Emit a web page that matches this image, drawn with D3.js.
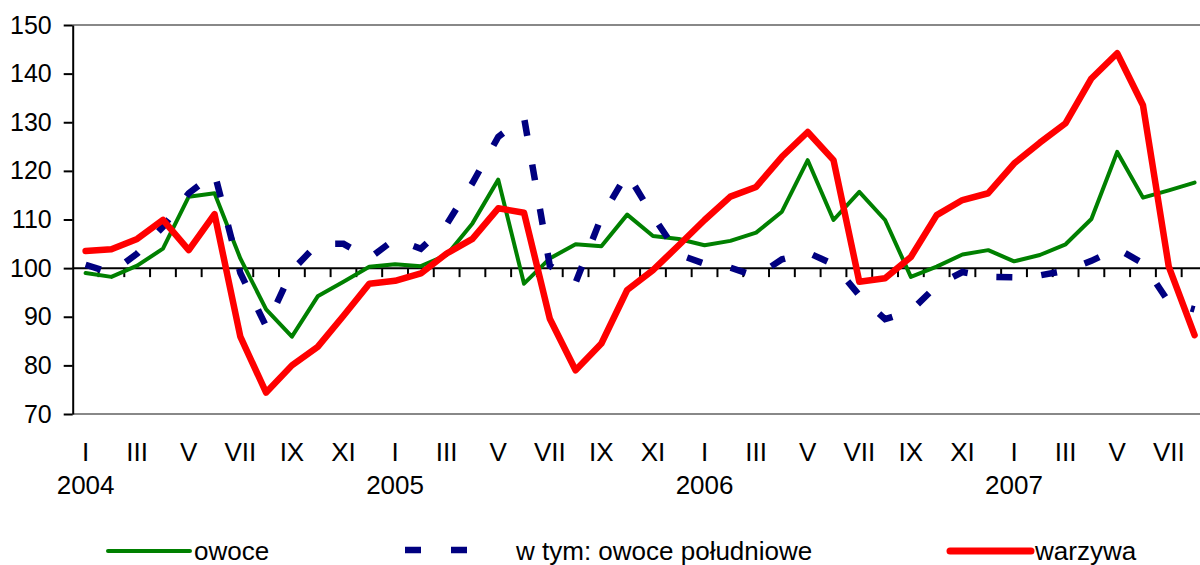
<!DOCTYPE html>
<html>
<head>
<meta charset="utf-8">
<script src="https://cdn.jsdelivr.net/npm/d3@7"></script>
<style>
  body { margin: 0; background: #fff; }
  svg { display: block; }
  text { font-family: Arial, "Liberation Sans", sans-serif; fill: #000; }
</style>
</head>
<body>
<div id="chart"></div>
<script>
// months I 2004 .. VIII 2007
var romans = ["I","II","III","IV","V","VI","VII","VIII","IX","X","XI","XII"];
var years = ["2004", "2005", "2006", "2007"];
var yTicks = [70, 80, 90, 100, 110, 120, 130, 140, 150];

var owoce = [99.0, 98.2, 100.5, 104.0, 114.7, 115.4, 102.0, 91.5, 85.9, 94.2,
             97.2, 100.3, 100.8, 100.4, 102.7, 109.2, 118.2, 96.8, 102.0, 104.9,
             104.5, 111.0, 106.6, 106.0, 104.7, 105.6, 107.3, 111.6, 122.2, 109.9,
             115.7, 109.9, 98.2, 100.3, 102.8, 103.7, 101.4, 102.7, 104.9, 110.1,
             123.9, 114.5, 116.0, 117.6];

var poludniowe = [100.7, 99.0, 103.0, 108.5, 115.4, 119.5, 99.0, 88.0, 99.5, 105.0,
                  105.0, 102.0, 106.0, 104.0, 109.0, 117.5, 127.0, 131.0, 100.5, 97.0,
                  110.5, 119.5, 110.7, 102.8, 100.9, 100.1, 98.3, 101.8, 103.2, 100.8,
                  94.4, 89.5, 91.2, 96.4, 99.2, 98.2, 98.1, 98.5, 99.5, 101.5,
                  104.0, 101.0, 93.0, 91.5];

var warzywa = [103.5, 103.9, 106.0, 109.9, 103.7, 111.1, 85.9, 74.4, 80.0, 83.8,
               90.2, 96.8, 97.4, 98.9, 103.0, 106.0, 112.3, 111.4, 89.6, 79.0,
               84.5, 95.5, 99.6, 104.7, 109.9, 114.7, 116.7, 122.9, 128.0, 122.2,
               97.2, 97.9, 102.3, 110.9, 114.0, 115.4, 121.5, 125.8, 129.8, 139.0,
               144.2, 133.5, 100.3, 86.2];

var months = owoce.map(function(d, i) { return romans[i % 12]; });

function drawChart() {
  var width = 1200, height = 565;
  var left = 72.7, step = 25.79, plotTop = 25, plotBottom = 414;

  var svg = d3.select("#chart").append("svg")
    .attr("width", width)
    .attr("height", height);

  var x = d3.scaleBand()
    .domain(d3.range(months.length))
    .range([left, left + step * months.length])
    .paddingInner(0).paddingOuter(0);

  var y = d3.scaleLinear()
    .domain([70, 150])
    .range([plotBottom, plotTop]);

  function cx(i) { return x(i) + x.bandwidth() / 2; }

  // plot area top and bottom border
  svg.append("line")
    .attr("x1", left).attr("x2", width)
    .attr("y1", y(150)).attr("y2", y(150))
    .attr("stroke", "#888").attr("stroke-width", 2);
  svg.append("line")
    .attr("x1", left).attr("x2", width)
    .attr("y1", y(70)).attr("y2", y(70))
    .attr("stroke", "#888").attr("stroke-width", 2);

  // y axis
  var yAxis = svg.append("g")
    .attr("transform", "translate(" + left + ",0)")
    .call(d3.axisLeft(y).tickValues(yTicks).tickSize(9).tickPadding(12).tickSizeOuter(0));
  yAxis.select(".domain").attr("stroke", "#000").attr("stroke-width", 2);
  yAxis.selectAll(".tick line").attr("stroke", "#000").attr("stroke-width", 2);
  yAxis.selectAll(".tick text")
    .style("font-size", "25px")
    .style("font-family", "Arial, 'Liberation Sans', sans-serif")
    .attr("fill", "#000");

  // category axis crossing at 100
  var axisG = svg.append("g");
  axisG.append("line")
    .attr("x1", left).attr("x2", left + step * months.length)
    .attr("y1", y(100)).attr("y2", y(100))
    .attr("stroke", "#000").attr("stroke-width", 2);
  axisG.selectAll("line.tk")
    .data(d3.range(1, months.length + 1))
    .enter().append("line")
    .attr("class", "tk")
    .attr("x1", function(d) { return x(d - 1) + x.bandwidth(); })
    .attr("x2", function(d) { return x(d - 1) + x.bandwidth(); })
    .attr("y1", y(100)).attr("y2", y(100) + 9)
    .attr("stroke", "#000").attr("stroke-width", 2);

  // month labels (every other month) and years
  svg.selectAll("text.month")
    .data(months.map(function(m, i) { return {m: m, i: i}; }).filter(function(d) { return d.i % 2 === 0; }))
    .enter().append("text")
    .attr("class", "month")
    .attr("x", function(d) { return cx(d.i); })
    .attr("y", 460.5)
    .attr("text-anchor", "middle")
    .style("font-size", "26px")
    .text(function(d) { return d.m; });

  svg.selectAll("text.year")
    .data(years)
    .enter().append("text")
    .attr("class", "year")
    .attr("x", function(d, k) { return cx(k * 12); })
    .attr("y", 494)
    .attr("text-anchor", "middle")
    .style("font-size", "26px")
    .text(function(d) { return d; });

  // series
  var line = d3.line()
    .x(function(d, i) { return cx(i); })
    .y(function(d) { return y(d); });

  svg.append("path")
    .attr("d", line(owoce))
    .attr("fill", "none")
    .attr("stroke", "#008000")
    .attr("stroke-width", 4)
    .attr("stroke-linejoin", "round")
    .attr("stroke-linecap", "round");

  svg.append("path")
    .attr("d", line(poludniowe))
    .attr("fill", "none")
    .attr("stroke", "#000080")
    .attr("stroke-width", 6.5)
    .attr("stroke-dasharray", "16,29");

  svg.append("path")
    .attr("d", line(warzywa))
    .attr("fill", "none")
    .attr("stroke", "#ff0000")
    .attr("stroke-width", 6.5)
    .attr("stroke-linejoin", "round")
    .attr("stroke-linecap", "round");

  // legend
  var legendY = 551, legendText = 559.5;
  svg.append("line")
    .attr("x1", 108).attr("x2", 190)
    .attr("y1", legendY).attr("y2", legendY)
    .attr("stroke", "#008000").attr("stroke-width", 4).attr("stroke-linecap", "round");
  svg.append("text").attr("x", 194).attr("y", legendText)
    .style("font-size", "26px").text("owoce");

  svg.append("line")
    .attr("x1", 405).attr("x2", 467)
    .attr("y1", legendY - 1).attr("y2", legendY - 1)
    .attr("stroke", "#000080").attr("stroke-width", 6.7)
    .attr("stroke-dasharray", "16,30");
  svg.append("text").attr("x", 516).attr("y", legendText)
    .style("font-size", "26px").text("w tym: owoce południowe");

  svg.append("line")
    .attr("x1", 950).attr("x2", 1031)
    .attr("y1", legendY).attr("y2", legendY)
    .attr("stroke", "#ff0000").attr("stroke-width", 7).attr("stroke-linecap", "round");
  svg.append("text").attr("x", 1035).attr("y", legendText)
    .style("font-size", "26px").text("warzywa");
}

drawChart();
</script>
</body>
</html>
